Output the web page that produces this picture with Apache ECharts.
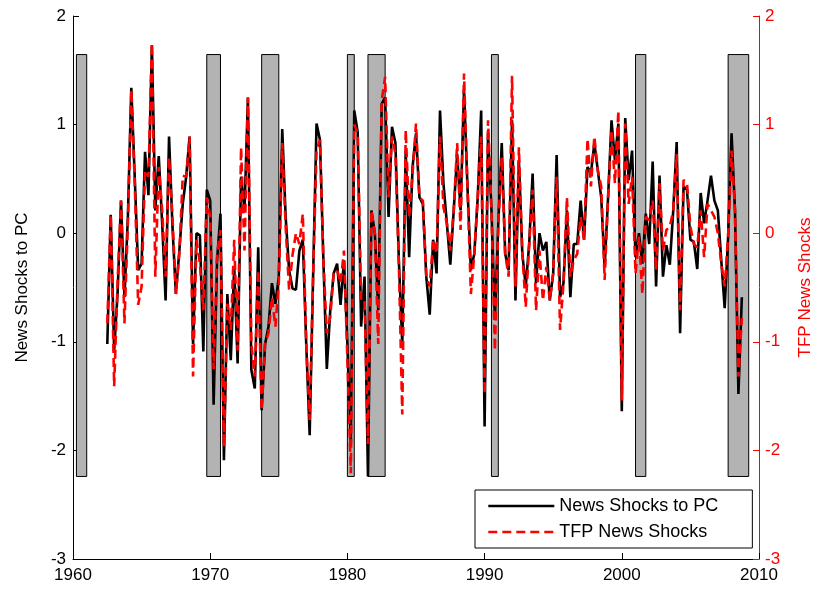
<!DOCTYPE html>
<html>
<head>
<meta charset="utf-8">
<script src="https://cdn.jsdelivr.net/npm/echarts@6/dist/echarts.min.js"></script>
<style>
html,body{margin:0;padding:0;background:#fff;}
#chart{width:822px;height:592px;}
</style>
</head>
<body>
<div id="chart"></div>
<script>
// Quarterly observations: 1962Q3 .. 2008Q4
const startYear = 1962.5;
const quarterStep = 0.25;

const newsShocksPC = [
  -1.02, 0.17, -1.08, -0.55, 0.30, -0.59, 0.15, 1.34, 0.52, -0.34,
  -0.28, 0.75, 0.35, 1.73, 0.21, 0.71, 0.09, -0.62, 0.89, 0.06,
  -0.56, -0.16, 0.27, 0.52, 0.89, -1.02, 0.00, -0.02, -1.09, 0.40,
  0.30, -1.58, -0.25, 0.18, -2.09, -0.56, -1.17, -0.31, -1.20, 0.52,
  0.21, 1.25, -1.26, -1.43, -0.13, -1.63, -1.02, -0.86, -0.46, -0.65,
  -0.40, 0.96, 0.15, -0.34, -0.51, -0.52, -0.16, -0.06, -1.02, -1.86,
  -0.40, 1.01, 0.86, -0.25, -1.25, -0.71, -0.37, -0.28, -0.66, -0.25,
  -1.02, -1.94, 1.13, 0.93, -0.86, -0.40, -2.24, 0.21, 0.00, -0.71,
  1.19, 1.25, 0.15, 0.98, 0.83, -0.25, -1.02, 0.76, -0.22, 0.61,
  0.92, 0.33, 0.27, -0.40, -0.75, -0.06, -0.37, 1.13, 0.46, 0.09,
  -0.29, 0.21, 0.73, 0.21, 1.32, 0.43, -0.34, -0.19, 0.33, 1.13,
  -1.78, 0.92, 0.21, -0.80, 0.09, 0.83, -0.19, -0.34, 1.04, -0.62,
  0.67, -0.19, -0.49, -0.10, 0.55, -0.46, 0.00, -0.16, -0.08, -0.62,
  -0.37, 0.72, -0.59, -0.46, 0.21, -0.59, -0.10, -0.10, 0.30, -0.06,
  0.61, 0.55, 0.83, 0.58, 0.33, -0.31, 0.33, 1.04, 0.67, 1.01,
  -1.64, 1.06, 0.49, 0.76, -0.22, 0.00, -0.28, 0.18, -0.10, 0.66,
  -0.49, 0.53, -0.40, -0.11, -0.29, 0.21, 0.84, -0.92, 0.43, 0.40,
  -0.06, -0.08, -0.33, 0.37, 0.09, 0.30, 0.53, 0.30, 0.21, -0.25,
  -0.69, -0.03, 0.92, 0.21, -1.48, -0.59
];

const tfpNewsShocks = [
  -0.83, 0.17, -1.41, -0.45, 0.30, -0.83, 0.09, 1.32, 0.46, -0.66,
  -0.49, 0.58, 0.52, 1.75, -0.40, 0.61, 0.21, -0.40, 0.70, 0.15,
  -0.56, -0.19, 0.53, 0.52, 0.89, -1.32, -0.06, -0.28, -0.71, 0.33,
  0.15, -1.25, -0.20, 0.03, -1.97, -0.65, -0.89, -0.06, -1.08, 0.79,
  -0.16, 1.25, -1.02, -1.32, -0.34, -1.63, -1.02, -0.92, -0.59, -0.86,
  -0.46, 0.83, 0.06, -0.52, -0.20, 0.00, -0.10, 0.18, -1.02, -1.72,
  -0.40, 0.76, 0.86, -0.25, -0.92, -0.77, -0.37, -0.34, -0.46, -0.16,
  -1.17, -2.21, 1.00, 0.92, -0.62, -0.62, -1.94, 0.21, 0.00, -1.02,
  1.22, 1.44, 0.33, 0.89, 0.73, -0.28, -1.67, 0.95, 0.15, 0.55,
  1.01, 0.33, 0.30, -0.40, -0.49, -0.06, -0.19, 0.89, 0.24, 0.09,
  -0.16, 0.21, 0.83, 0.03, 1.47, 0.43, -0.56, -0.19, 0.33, 0.89,
  -1.48, 1.04, 0.21, -1.08, 0.09, 0.70, -0.19, -0.40, 1.45, -0.49,
  0.79, -0.19, -0.68, -0.10, 0.40, -0.71, -0.16, -0.62, -0.31, -0.62,
  -0.37, 0.52, -0.89, -0.46, 0.33, -0.40, -0.25, -0.19, 0.15, -0.06,
  0.87, 0.43, 0.89, 0.58, 0.43, -0.43, 0.33, 0.95, 0.46, 1.13,
  -1.54, 1.01, 0.27, 0.52, -0.37, -0.03, -0.56, 0.15, 0.12, 0.30,
  -0.34, 0.46, -0.16, 0.03, 0.06, 0.21, 0.73, -0.71, 0.49, 0.46,
  0.06, -0.10, -0.13, 0.21, -0.22, 0.27, 0.21, 0.15, 0.00, -0.28,
  -0.49, -0.03, 0.76, 0.21, -1.32, -0.78
];

// NBER recessions [start, end] in fractional years
const recessions = [
  [1960.25, 1961.0], [1969.75, 1970.75], [1973.75, 1975.0], [1980.0, 1980.5],
  [1981.5, 1982.75], [1990.5, 1991.0], [2001.0, 2001.75], [2007.75, 2009.25]
];
const recessionLow = -2.24;
const recessionHigh = 1.645;

const xTicks = [1960, 1970, 1980, 1990, 2000, 2010];
const yTicks = [-3, -2, -1, 0, 1, 2];

const seriesNames = ['News Shocks to PC', 'TFP News Shocks'];
const leftTitle = 'News Shocks to PC';
const rightTitle = 'TFP News Shocks';

const toPairs = arr => arr.map((v, i) => [startYear + i * quarterStep, v]);

const FONT = 'Liberation Sans, Arial, sans-serif';
const chart = echarts.init(document.getElementById('chart'), null, {renderer: 'canvas'});

chart.setOption({
  backgroundColor: '#ffffff',
  animation: false,
  textStyle: {fontFamily: FONT},
  grid: {left: 73, right: 60, top: 16, bottom: 33, containLabel: false},
  legend: {
    data: seriesNames,
    orient: 'vertical',
    left: 475,
    top: 490,
    padding: [7, 34, 7, 12],
    itemGap: 8,
    itemWidth: 66,
    itemHeight: 14,
    borderColor: '#000',
    borderWidth: 1,
    backgroundColor: '#fff',
    itemStyle: {opacity: 0},
    lineStyle: {width: 2.6},
    textStyle: {fontSize: 18, color: '#000', fontFamily: FONT},
    z: 10
  },
  xAxis: {
    type: 'value',
    min: xTicks[0],
    max: xTicks[xTicks.length - 1],
    interval: 10,
    axisLine: {show: true, onZero: false, lineStyle: {color: '#000', width: 1}},
    axisTick: {show: true, inside: true, length: 6, lineStyle: {color: '#000'}},
    axisLabel: {color: '#000', fontSize: 17, margin: 8, fontFamily: FONT, formatter: v => String(v)},
    splitLine: {show: false}
  },
  yAxis: [
    {
      type: 'value',
      position: 'left',
      min: yTicks[0],
      max: yTicks[yTicks.length - 1],
      interval: 1,
      name: leftTitle,
      nameLocation: 'middle',
      nameGap: 42,
      nameRotate: 90,
      nameTextStyle: {color: '#000', fontSize: 17, fontFamily: FONT},
      axisLine: {show: true, onZero: false, lineStyle: {color: '#000', width: 1}},
      axisTick: {show: true, inside: true, length: 6, lineStyle: {color: '#000'}},
      axisLabel: {color: '#000', fontSize: 17, margin: 7, fontFamily: FONT},
      splitLine: {show: false}
    },
    {
      type: 'value',
      position: 'right',
      min: yTicks[0],
      max: yTicks[yTicks.length - 1],
      interval: 1,
      name: rightTitle,
      nameLocation: 'middle',
      nameGap: 38,
      nameRotate: 90,
      nameTextStyle: {color: '#ff0000', fontSize: 17, fontFamily: FONT},
      axisLine: {show: true, onZero: false, lineStyle: {color: '#ff0000', width: 1}},
      axisTick: {show: true, inside: true, length: 6, lineStyle: {color: '#ff0000'}},
      axisLabel: {color: '#ff0000', fontSize: 17, margin: 6, fontFamily: FONT},
      splitLine: {show: false}
    }
  ],
  series: [
    {
      name: 'recessions',
      type: 'line',
      data: [],
      silent: true,
      z: 1,
      markArea: {
        silent: true,
        itemStyle: {color: '#b3b3b3', borderColor: '#000', borderWidth: 1},
        data: recessions.map(r => [
          {coord: [r[0], recessionLow]},
          {coord: [r[1], recessionHigh]}
        ])
      }
    },
    {
      name: seriesNames[0],
      type: 'line',
      yAxisIndex: 0,
      data: toPairs(newsShocksPC),
      symbol: 'none',
      z: 3,
      lineStyle: {color: '#000', width: 2.6},
      itemStyle: {color: '#000'}
    },
    {
      name: seriesNames[1],
      type: 'line',
      yAxisIndex: 1,
      data: toPairs(tfpNewsShocks),
      symbol: 'none',
      z: 4,
      lineStyle: {color: '#ff0000', width: 2.6, type: [9, 5]},
      itemStyle: {color: '#ff0000'}
    }
  ]
});
</script>
</body>
</html>
